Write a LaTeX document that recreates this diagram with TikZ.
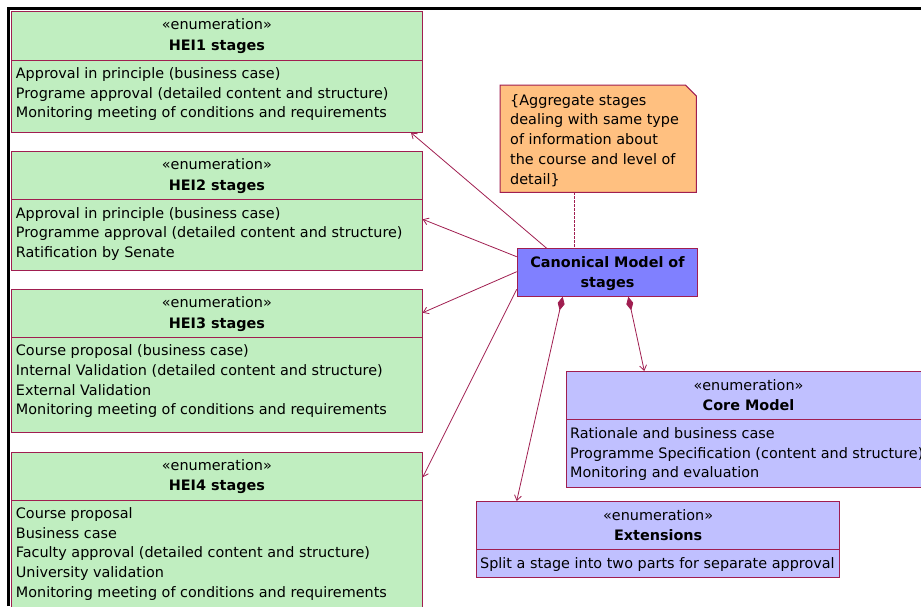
\documentclass[tikz,border=0pt]{standalone}
\usepackage{fontspec}
\setmainfont{DejaVu Sans}
\usetikzlibrary{arrows.meta,calc}

\definecolor{umlline}{RGB}{160,30,80}
\definecolor{enumgreen}{RGB}{192,238,192}
\definecolor{enumblue}{RGB}{192,192,255}
\definecolor{classblue}{RGB}{128,128,255}
\definecolor{noteorange}{RGB}{255,192,128}

\newcommand\umlfont{\fontsize{14.4}{19.7}\selectfont}

\tikzset{
  umlbox/.style={draw=umlline, line width=1pt, inner sep=0pt, anchor=north west},
  greenbox/.style={umlbox, fill=enumgreen},
  bluebox/.style={umlbox, fill=enumblue},
  divider/.style={draw=umlline, line width=1pt},
  txt/.style={inner sep=0pt, font=\umlfont, text=black},
  hdr/.style={txt, anchor=base},
  ttl/.style={txt, anchor=base, font=\umlfont\bfseries},
  lst/.style={txt, anchor=base west},
  link/.style={draw=umlline, line width=0.8pt, -{Straight Barb[length=5pt,width=7pt]}},
  comp/.style={draw=umlline, line width=0.8pt,
    {Diamond[length=14pt,width=7pt]}-{Straight Barb[length=5pt,width=7pt]}},
  notelink/.style={draw=umlline, line width=0.8pt, dash pattern=on 2.5pt off 1.5pt},
}

\begin{document}
\begin{tikzpicture}[x=1pt, y=-1pt]
  \useasboundingbox[fill=white] (0,0) rectangle (921,606);

  % outer frame (top and left edges)
  \draw[black, line width=3pt] (8,606) -- (8,8) -- (921,8);

  % ---------- HEI enumerations ----------
  \node[greenbox, minimum width=410.7, minimum height=120.7] (hei1) at (11,11) {};
  \draw[divider] ($(hei1.north west)+(0,49)$) -- ($(hei1.north east)+(0,49)$);
  \node[hdr] (hei1s) at ($(hei1.north)+(0,18.5)$) {«enumeration»};
  \node[ttl] (hei1t) at ($(hei1.north)+(0,39)$) {HEI1 stages};
  \node[lst] (hei1l) at ($(hei1.north west)+(4.7,67.5)$) {\begin{tabular}[t]{@{}l@{}}
    Approval in principle (business case)\\
    Programe approval (detailed content and structure)\\
    Monitoring meeting of conditions and requirements\end{tabular}};

  \node[greenbox, minimum width=410.7, minimum height=119] (hei2) at (11,151) {};
  \draw[divider] ($(hei2.north west)+(0,48.5)$) -- ($(hei2.north east)+(0,48.5)$);
  \node[hdr] (hei2s) at ($(hei2.north)+(0,18.5)$) {«enumeration»};
  \node[ttl] (hei2t) at ($(hei2.north)+(0,39)$) {HEI2 stages};
  \node[lst] (hei2l) at ($(hei2.north west)+(4.7,67)$) {\begin{tabular}[t]{@{}l@{}}
    Approval in principle (business case)\\
    Programme approval (detailed content and structure)\\
    Ratification by Senate\end{tabular}};

  \node[greenbox, minimum width=410.7, minimum height=143] (hei3) at (11,289.3) {};
  \draw[divider] ($(hei3.north west)+(0,48)$) -- ($(hei3.north east)+(0,48)$);
  \node[hdr] (hei3s) at ($(hei3.north)+(0,18.5)$) {«enumeration»};
  \node[ttl] (hei3t) at ($(hei3.north)+(0,39)$) {HEI3 stages};
  \node[lst] (hei3l) at ($(hei3.north west)+(4.7,66.5)$) {\begin{tabular}[t]{@{}l@{}}
    Course proposal (business case)\\
    Internal Validation (detailed content and structure)\\
    External Validation\\
    Monitoring meeting of conditions and requirements\end{tabular}};

  \node[greenbox, minimum width=410.7, minimum height=190] (hei4) at (11,451.7) {};
  \draw[divider] ($(hei4.north west)+(0,48.3)$) -- ($(hei4.north east)+(0,48.3)$);
  \node[hdr] (hei4s) at ($(hei4.north)+(0,18.5)$) {«enumeration»};
  \node[ttl] (hei4t) at ($(hei4.north)+(0,39)$) {HEI4 stages};
  \node[lst] (hei4l) at ($(hei4.north west)+(4.7,66.8)$) {\begin{tabular}[t]{@{}l@{}}
    Course proposal\\
    Business case\\
    Faculty approval (detailed content and structure)\\
    University validation\\
    Monitoring meeting of conditions and requirements\end{tabular}};

  % ---------- canonical model ----------
  \node[umlbox, fill=classblue, minimum width=180.6, minimum height=47.4] (canon) at (516.7,248.3) {};
  \node[ttl] (canont) at ($(canon.north)+(0,19)$) {Canonical Model of};
  \node[ttl] (canont2) at ($(canon.north)+(0,39)$) {stages};

  % ---------- constraint note ----------
  \node[inner sep=0pt, anchor=north west, minimum width=196, minimum height=107] (note) at (500,85) {};
  \filldraw[draw=umlline, fill=noteorange, line width=1pt]
    (note.north west) -- ($(note.north east)+(-11,0)$) -- ($(note.north east)+(0,11)$)
    -- (note.south east) -- (note.south west) -- cycle;
  \node[lst] (notet) at ($(note.north west)+(10,20.2)$) {\begin{tabular}[t]{@{}l@{}}
    \{Aggregate stages\\
    dealing with same type\\
    of information about\\
    the course and level of\\
    detail\}\end{tabular}};

  % ---------- core model and extensions ----------
  \node[bluebox, minimum width=364, minimum height=116] (core) at (566,371) {};
  \draw[divider] ($(core.north west)+(0,48.3)$) -- ($(core.north east)+(0,48.3)$);
  \node[hdr] (cores) at ($(core.north)+(0,19.5)$) {«enumeration»};
  \node[ttl] (coret) at ($(core.north)+(0,39.2)$) {Core Model};
  \node[lst] (corel) at ($(core.north west)+(4,67.5)$) {\begin{tabular}[t]{@{}l@{}}
    Rationale and business case\\
    Programme Specification (content and structure)\\
    Monitoring and evaluation\end{tabular}};

  \node[bluebox, minimum width=363.3, minimum height=76] (ext) at (476,501) {};
  \draw[divider] ($(ext.north west)+(0,48.3)$) -- ($(ext.north east)+(0,48.3)$);
  \node[hdr] (exts) at ($(ext.north)+(0,19.5)$) {«enumeration»};
  \node[ttl] (extt) at ($(ext.north)+(0,39.5)$) {Extensions};
  \node[lst] (extl) at ($(ext.north west)+(4,67.8)$) {Split a stage into two parts for separate approval};

  % ---------- connectors ----------
  \coordinate (anchorpt) at ($(note.south west)+(74,0)$);
  \draw[notelink] (anchorpt) -- (anchorpt |- canon.north);
  \draw[link] ($(canon.north west)+(30,0)$) -- ($(hei1.south east)+(-11.7,0)$);
  \draw[link] ($(canon.north west)+(0,8.4)$) -- ($(hei2.north east)+(0,68.3)$);
  \draw[link] ($(canon.north west)+(0,23.4)$) -- ($(hei3.north east)+(0,23.4)$);
  \draw[link] ($(canon.south west)+(0,-7.4)$) -- ($(hei4.north east)+(0,25.6)$);
  \draw[comp] ($(canon.south west)+(46,0)$) -- ($(ext.north west)+(40.7,0)$);
  \draw[comp] ($(canon.south west)+(111.6,0)$) -- ($(core.north west)+(78.3,0)$);
\end{tikzpicture}
\end{document}
